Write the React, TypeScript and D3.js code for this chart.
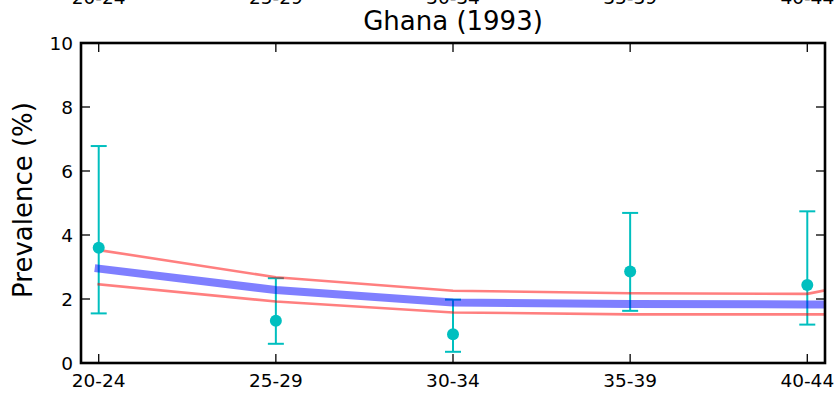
import React from "react";
import * as d3 from "d3";

const categories = ["20-24", "25-29", "30-34", "35-39", "40-44"];
const yTicks = [0, 2, 4, 6, 8, 10];
const obsValue = [3.6, 1.32, 0.9, 2.86, 2.44];
const obsLow = [1.55, 0.6, 0.35, 1.63, 1.2];
const obsHigh = [6.78, 2.65, 1.98, 4.69, 4.74];
// model curves evaluated at each age group (last point lies beyond the axis)
const modelMean = [2.95, 2.28, 1.89, 1.84, 1.83, 1.84];
const modelUpper = [3.53, 2.68, 2.26, 2.18, 2.16, 3.25];
const modelLower = [2.46, 1.92, 1.58, 1.52, 1.52, 1.5];
const title = "Ghana (1993)";
const nextTitle = "Ghana (1998)";
const yLabel = "Prevalence (%)";

const W = 837;
const H = 393;
const L = 81, R = 825, T = 43, B = 363;
const FONT = "'DejaVu Sans', sans-serif";

export default function App() {
  const x = d3.scaleLinear().domain([-0.1, 4.1]).range([L, R]);
  const y = d3.scaleLinear().domain([0, 10]).range([B, T]);
  const line = d3
    .line<number>()
    .x((_, i) => x(i))
    .y((d) => y(d));
  const cyan = "#00BFBF";
  const tickLen = 9;
  const period = 382.5;
  const tickFont = 18.5;
  return (
    <svg
      width={W}
      height={H}
      style={{ position: "absolute", left: 0, top: 0, background: "#fff" }}
      fontFamily={FONT}
    >
      <defs>
        <clipPath id="plotclip">
          <rect x={L} y={T} width={R - L} height={B - T} />
        </clipPath>
      </defs>
      <rect x={0} y={0} width={W} height={H} fill="#fff" />
      {/* previous subplot's tick labels (cut off at top) */}
      {categories.map((c, i) => (
        <text key={"pt" + i} x={x(i)} y={386.5 - period} fontSize={tickFont} textAnchor="middle" fill="#000">
          {c}
        </text>
      ))}
      <text x={(L + R) / 2} y={30} fontSize={26} textAnchor="middle" fill="#000">
        {title}
      </text>
      <text x={(L + R) / 2} y={412.8} fontSize={26} textAnchor="middle" fill="#000">
        {nextTitle}
      </text>
      <text
        transform={`translate(32,200) rotate(-90)`}
        fontSize={26}
        textAnchor="middle"
        fill="#000"
      >
        {yLabel}
      </text>
      <g clipPath="url(#plotclip)">
        {categories.map((_, i) => (
          <g key={"eb" + i} stroke={cyan} strokeWidth={2}>
            <line x1={x(i)} x2={x(i)} y1={y(obsLow[i])} y2={y(obsHigh[i])} />
            <line x1={x(i) - 8} x2={x(i) + 8} y1={y(obsLow[i])} y2={y(obsLow[i])} />
            <line x1={x(i) - 8} x2={x(i) + 8} y1={y(obsHigh[i])} y2={y(obsHigh[i])} />
          </g>
        ))}
        <path d={line(modelUpper) || ""} fill="none" stroke="red" strokeOpacity={0.5} strokeWidth={2.6} strokeLinecap="square" strokeLinejoin="round" />
        <path d={line(modelLower) || ""} fill="none" stroke="red" strokeOpacity={0.5} strokeWidth={2.6} strokeLinecap="square" strokeLinejoin="round" />
        <path d={line(modelMean) || ""} fill="none" stroke="blue" strokeOpacity={0.5} strokeWidth={8} strokeLinecap="square" strokeLinejoin="round" />
        {categories.map((_, i) => (
          <circle key={"pt" + i} cx={x(i)} cy={y(obsValue[i])} r={6} fill={cyan} />
        ))}
      </g>
      {/* ticks */}
      <g stroke="#000" strokeWidth={1.3}>
        {categories.map((_, i) => (
          <g key={"xt" + i}>
            <line x1={x(i)} x2={x(i)} y1={B} y2={B - tickLen} />
            <line x1={x(i)} x2={x(i)} y1={T} y2={T + tickLen} />
          </g>
        ))}
        {yTicks.map((t) => (
          <g key={"yt" + t}>
            <line x1={L} x2={L + tickLen} y1={y(t)} y2={y(t)} />
            <line x1={R} x2={R - tickLen} y1={y(t)} y2={y(t)} />
          </g>
        ))}
      </g>
      <rect x={L} y={T} width={R - L} height={B - T} fill="none" stroke="#000" strokeWidth={2.6} />
      {categories.map((c, i) => (
        <text key={"xl" + i} x={x(i)} y={386.5} fontSize={tickFont} textAnchor="middle" fill="#000">
          {c}
        </text>
      ))}
      {yTicks.map((t) => (
        <text key={"yl" + t} x={73} y={y(t) + 6.6} fontSize={tickFont} textAnchor="end" fill="#000">
          {t}
        </text>
      ))}
    </svg>
  );
}
